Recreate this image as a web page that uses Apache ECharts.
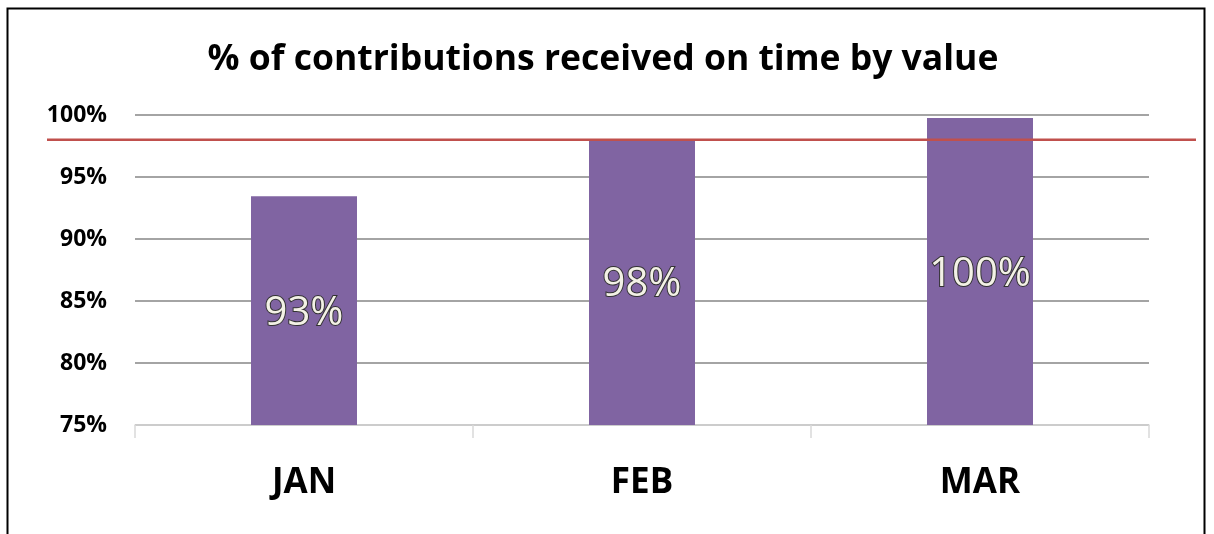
<!DOCTYPE html>
<html>
<head>
<meta charset="utf-8">
<script src="https://cdn.jsdelivr.net/npm/echarts@6/dist/echarts.min.js"></script>
<style>
  html, body { margin: 0; padding: 0; background: #fff; }
  #chart { width: 1214px; height: 534px; }
</style>
</head>
<body>
<div id="chart"></div>
<script>
// data
var months = ['JAN', 'FEB', 'MAR'];
var onTimeByValue = [93.45, 98.05, 99.75];
var target = [98, 98];
var yTicks = [75, 80, 85, 90, 95, 100];

var chart = echarts.init(document.getElementById('chart'));
var font = '"Open Sans", "Liberation Sans", sans-serif';

chart.setOption({
  animation: false,
  title: {
    text: '% of contributions received on time by value',
    left: 598,
    textAlign: 'center',
    top: 37,
    textStyle: { fontFamily: font, fontSize: 35.5, fontWeight: 'bold', color: '#000' }
  },
  graphic: [{
    type: 'rect',
    shape: { x: 7.5, y: 8.5, width: 1197, height: 600 },
    style: { fill: 'none', stroke: '#000', lineWidth: 2 },
    silent: true
  }],
  grid: [
    { left: 135, right: 65, top: 115, bottom: 109 },
    { left: 47, right: 18, top: 115, bottom: 109 }
  ],
  xAxis: [{
    type: 'category',
    gridIndex: 0,
    data: months,
    axisLine: { lineStyle: { color: '#d9d9d9', width: 1.5 } },
    axisTick: { show: true, length: 13, alignWithLabel: false, lineStyle: { color: '#d9d9d9', width: 1.5 } },
    axisLabel: { margin: 41, fontFamily: font, fontSize: 35, fontWeight: 'bold', color: '#000' }
  }, {
    type: 'value',
    gridIndex: 1,
    min: 0,
    max: 1,
    show: false
  }],
  yAxis: [{
    type: 'value',
    gridIndex: 0,
    min: yTicks[0],
    max: yTicks[yTicks.length - 1],
    interval: 5,
    axisLine: { show: false },
    axisTick: { show: false },
    splitLine: { lineStyle: { color: '#868686', width: 1.5 } },
    axisLabel: {
      margin: 28,
      fontFamily: font, fontSize: 23, fontWeight: 'bold', color: '#000',
      formatter: '{value}%'
    }
  }, {
    type: 'value',
    gridIndex: 1,
    min: yTicks[0],
    max: yTicks[yTicks.length - 1],
    show: false
  }],
  series: [{
    type: 'bar',
    xAxisIndex: 0,
    yAxisIndex: 0,
    data: onTimeByValue,
    barWidth: 106,
    itemStyle: { color: '#8064a2' },
    z: 2,
    label: {
      show: true,
      position: 'inside',
      offset: [0, 3],
      fontFamily: font,
      fontSize: 40,
      fontWeight: 500,
      color: '#f3f1e6',
      textBorderColor: '#333333',
      textBorderWidth: 2,
      formatter: function (p) { return Math.round(p.value) + '%'; }
    }
  }, {
    type: 'line',
    xAxisIndex: 1,
    yAxisIndex: 1,
    data: [[0, target[0]], [1, target[1]]],
    symbol: 'none',
    lineStyle: { color: '#c0504d', width: 2.5 },
    z: 5
  }]
});
</script>
</body>
</html>
